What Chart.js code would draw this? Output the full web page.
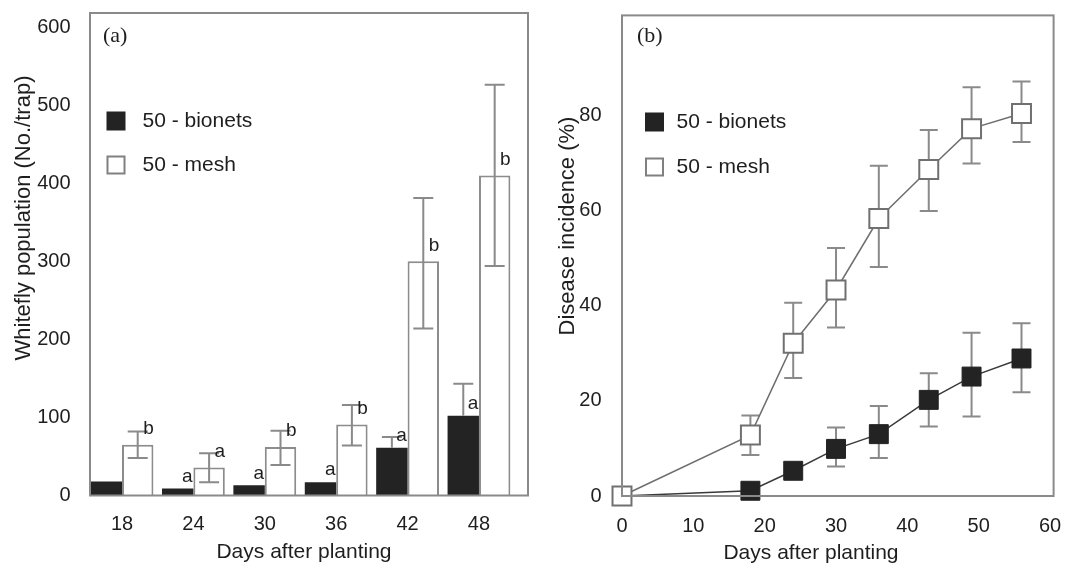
<!DOCTYPE html>
<html><head><meta charset="utf-8">
<script src="https://cdn.jsdelivr.net/npm/chart.js@4.4.0/dist/chart.umd.min.js"></script>
<style>
html,body{margin:0;padding:0;background:#fff;}
#wrap{position:relative;width:1069px;height:563px;overflow:hidden;background:#fff;}
canvas{position:absolute;top:0;}
</style></head><body>
<div id="wrap">
<canvas id="ca" width="545" height="563" style="left:0px"></canvas>
<canvas id="cb" width="524" height="563" style="left:545px"></canvas>
</div>
<script>
// ---------- Panel (a) data ----------
const daysA = [18, 24, 30, 36, 42, 48];
const bionetsA = [18, 9, 13, 17, 61, 102];
const meshA = [65, 36, 62, 91, 300, 410];
const bionetsAHi = [null, null, null, null, 75, 143];
const meshAHi = [82, 54, 83, 116, 381, 526];
const meshALo = [48, 17, 39, 64, 214, 294];
const lettersBionetsA = ['', 'a', 'a', 'a', 'a', 'a'];
const lettersMeshA = ['b', 'a', 'b', 'b', 'b', 'b'];
const yTicksA = [0, 100, 200, 300, 400, 500, 600];

// ---------- Panel (b) data ----------
const daysB = [0, 18, 24, 30, 36, 43, 49, 56];
const bionetsB = [0, 1.1, 5.3, 9.9, 13.0, 20.2, 25.1, 28.9];
const bionetsBHi = [null, null, null, 14.4, 18.9, 25.8, 34.3, 36.3];
const bionetsBLo = [null, null, null, 6.2, 8.0, 14.6, 16.7, 21.8];
const meshB = [0, 12.8, 32.1, 43.3, 58.3, 68.6, 77.2, 80.4];
const meshBHi = [null, 16.9, 40.6, 52.1, 69.4, 76.9, 85.9, 87.1];
const meshBLo = [null, 8.6, 24.8, 35.4, 48.1, 59.9, 69.9, 74.4];
const xTicksB = [0, 10, 20, 30, 40, 50, 60];
const yTicksB = [0, 20, 40, 60, 80];

const SANS = "'Liberation Sans', Arial, sans-serif";
const SERIF = "'Liberation Serif', 'Times New Roman', serif";
const TXT = '#1e1e1e';
const GRAY = '#8a8a8a';

function drawErrBars(chart, capHalf) {
  const ctx = chart.ctx;
  const ys = chart.scales.y;
  ctx.save();
  ctx.strokeStyle = GRAY;
  ctx.lineWidth = 2;
  chart.data.datasets.forEach((ds, di) => {
    const meta = chart.getDatasetMeta(di);
    meta.data.forEach((el, i) => {
      const hi = ds.errHi ? ds.errHi[i] : null;
      if (hi === null || hi === undefined) return;
      const lo = ds.errLo ? ds.errLo[i] : null;
      const x = el.x;
      const yHi = ys.getPixelForValue(hi);
      const yLo = (lo === null || lo === undefined) ? el.y : ys.getPixelForValue(lo);
      ctx.beginPath();
      ctx.moveTo(x, yLo); ctx.lineTo(x, yHi);
      ctx.moveTo(x - capHalf, yHi); ctx.lineTo(x + capHalf, yHi);
      if (!(lo === null || lo === undefined)) {
        ctx.moveTo(x - capHalf, yLo); ctx.lineTo(x + capHalf, yLo);
      }
      ctx.stroke();
    });
  });
  ctx.restore();
}

function drawTexts(chart, o) {
  const ctx = chart.ctx;
  const a = chart.chartArea;
  ctx.save();
  // frame
  ctx.strokeStyle = GRAY;
  ctx.lineWidth = 2;
  ctx.strokeRect(a.left, a.top, a.right - a.left, a.bottom - a.top);
  // texts
  (o.texts || []).forEach(t => {
    ctx.save();
    ctx.font = t.font;
    ctx.fillStyle = TXT;
    ctx.textAlign = t.align || 'center';
    ctx.textBaseline = 'middle';
    ctx.translate(t.x, t.y);
    if (t.rot) ctx.rotate(t.rot);
    ctx.fillText(t.text, 0, 0);
    ctx.restore();
  });
  // legend
  const lg = o.legend;
  if (lg) {
    chart.data.datasets.forEach((ds, i) => {
      const y = lg.ys[i];
      ctx.fillStyle = ds.legendFill;
      ctx.fillRect(lg.boxX, y - lg.box / 2, lg.box, lg.box);
      if (ds.legendStroke) {
        ctx.strokeStyle = ds.legendStroke;
        ctx.lineWidth = 2;
        ctx.strokeRect(lg.boxX + 1, y - lg.box / 2 + 1, lg.box - 2, lg.box - 2);
      }
      ctx.fillStyle = TXT;
      ctx.font = lg.font;
      ctx.textAlign = 'left';
      ctx.textBaseline = 'middle';
      ctx.fillText(ds.label, lg.textX, y);
    });
  }
  ctx.restore();
}

const panelPlugin = {
  id: 'panel',
  beforeDatasetsDraw(chart, args, o) {
    if (o.errBefore) drawErrBars(chart, o.capHalf);
  },
  afterDatasetsDraw(chart, args, o) {
    if (!o.errBefore) drawErrBars(chart, o.capHalf);
    if (o.letters) {
      const ctx = chart.ctx;
      ctx.save();
      ctx.font = '19px ' + SANS;
      ctx.fillStyle = TXT;
      ctx.textAlign = 'center';
      ctx.textBaseline = 'middle';
      chart.data.datasets.forEach((ds, di) => {
        const meta = chart.getDatasetMeta(di);
        meta.data.forEach((el, i) => {
          const s = ds.letters[i];
          if (!s) return;
          ctx.fillText(s, el.x + el.width / 2 - ds.letterDx, el.y - ds.letterDy);
        });
      });
      ctx.restore();
    }
  },
  afterDraw(chart, args, o) {
    drawTexts(chart, o);
  }
};

// ---------- Chart (a) ----------
new Chart(document.getElementById('ca'), {
  type: 'bar',
  data: {
    labels: daysA,
    datasets: [
      { label: '50 - bionets', data: bionetsA, backgroundColor: '#232323', borderWidth: 0,
        categoryPercentage: 0.88, barPercentage: 1.0,
        errHi: bionetsAHi, errLo: null, letters: lettersBionetsA, letterDx: 6, letterDy: 12,
        legendFill: '#232323', legendStroke: null },
      { label: '50 - mesh', data: meshA, backgroundColor: '#ffffff', borderColor: '#8c8c8c', borderWidth: 2,
        categoryPercentage: 0.88, barPercentage: 1.0,
        errHi: meshAHi, errLo: meshALo, letters: lettersMeshA, letterDx: 5, letterDy: 16,
        legendFill: '#ffffff', legendStroke: '#808080' }
    ]
  },
  options: {
    responsive: false, animation: false, devicePixelRatio: 1,
    layout: { padding: { top: 13, right: 17, left: 0, bottom: 0 } },
    plugins: {
      legend: { display: false }, tooltip: { enabled: false },
      panel: {
        capHalf: 10, errBefore: false, letters: true,
        legend: { boxX: 106.5, box: 19, ys: [121, 165], textX: 142.5, font: '21px ' + SANS },
        texts: [
          { text: '(a)', x: 103, y: 36, align: 'left', font: '22px ' + SERIF },
          { text: 'Whitefly population (No./trap)', x: 24, y: 218, rot: -Math.PI / 2, font: '22px ' + SANS },
          { text: 'Days after planting', x: 304, y: 552, font: '21px ' + SANS }
        ]
      }
    },
    scales: {
      x: {
        type: 'linear', offset: false, min: 15.31, max: 52.12,
        grid: { display: false }, border: { display: false },
        afterBuildTicks: s => { s.ticks = daysA.map(v => ({ value: v })); },
        afterFit: s => { s.height = 67.5; s.paddingLeft = 0; s.paddingRight = 0; },
        ticks: { font: { family: SANS, size: 20 }, color: TXT, padding: 8.5, maxRotation: 0, autoSkip: false }
      },
      y: {
        min: 0, max: 618,
        grid: { display: false }, border: { display: false },
        afterBuildTicks: s => { s.ticks = yTicksA.map(v => ({ value: v })); },
        afterFit: s => { s.width = 90; s.paddingTop = 0; s.paddingBottom = 0; },
        ticks: { font: { family: SANS, size: 20 }, color: TXT, padding: 11.5 }
      }
    }
  },
  plugins: [panelPlugin]
});

// ---------- Chart (b) ----------
const ptsB = arr => daysB.map((d, i) => ({ x: d, y: arr[i] }));
new Chart(document.getElementById('cb'), {
  type: 'line',
  data: {
    datasets: [
      { label: '50 - bionets', data: ptsB(bionetsB), order: 1,
        borderColor: '#3a3a3a', borderWidth: 1.5, tension: 0, clip: false,
        pointStyle: 'rect', pointRadius: 13.4, pointBackgroundColor: '#232323', pointBorderColor: '#232323', pointBorderWidth: 1,
        errHi: bionetsBHi, errLo: bionetsBLo, legendFill: '#232323', legendStroke: null },
      { label: '50 - mesh', data: ptsB(meshB), order: 0,
        borderColor: '#6e6e6e', borderWidth: 1.5, tension: 0, clip: false,
        pointStyle: 'rect', pointRadius: 13.4, pointBackgroundColor: '#ffffff', pointBorderColor: '#707070', pointBorderWidth: 2,
        errHi: meshBHi, errLo: meshBLo, legendFill: '#ffffff', legendStroke: '#808080' }
    ]
  },
  options: {
    responsive: false, animation: false, devicePixelRatio: 1,
    layout: { padding: { top: 15, right: 11, left: 0, bottom: 0 } },
    plugins: {
      legend: { display: false }, tooltip: { enabled: false },
      panel: {
        capHalf: 9, errBefore: true, letters: false,
        legend: { boxX: 100, box: 19, ys: [122, 167], textX: 131.5, font: '21px ' + SANS },
        texts: [
          { text: '(b)', x: 92, y: 36, align: 'left', font: '22px ' + SERIF },
          { text: 'Disease incidence (%)', x: 23, y: 226, rot: -Math.PI / 2, font: '22px ' + SANS },
          { text: 'Days after planting', x: 266, y: 553, font: '21px ' + SANS }
        ]
      }
    },
    scales: {
      x: {
        type: 'linear', min: 0, max: 60.5,
        grid: { display: false }, border: { display: false },
        afterBuildTicks: s => { s.ticks = xTicksB.map(v => ({ value: v })); },
        afterFit: s => { s.height = 67; s.paddingLeft = 0; s.paddingRight = 0; },
        ticks: { font: { family: SANS, size: 20 }, color: TXT, padding: 10, maxRotation: 0, autoSkip: false }
      },
      y: {
        min: 0, max: 101,
        grid: { display: false }, border: { display: false },
        afterBuildTicks: s => { s.ticks = yTicksB.map(v => ({ value: v })); },
        afterFit: s => { s.width = 77; s.paddingTop = 0; s.paddingBottom = 0; },
        ticks: { font: { family: SANS, size: 20 }, color: TXT, padding: 12.5 }
      }
    }
  },
  plugins: [panelPlugin]
});
</script>
</body></html>
